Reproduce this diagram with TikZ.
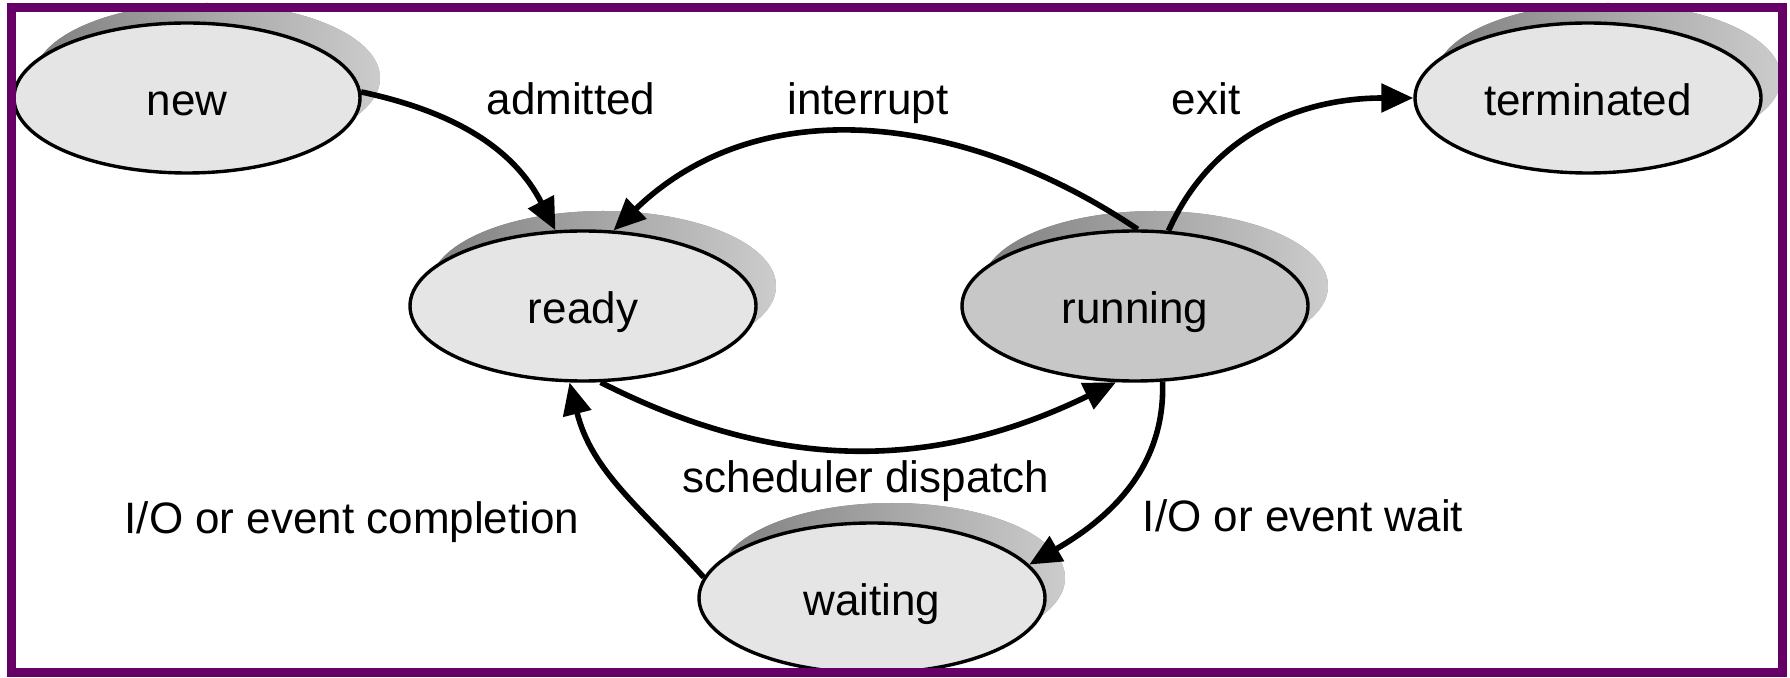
\documentclass[tikz,border=0pt]{standalone}
\usepackage{fontspec}
\setmainfont{Liberation Sans}
\usetikzlibrary{shapes.geometric,shadows,arrows.meta}

\definecolor{framepurple}{RGB}{102,0,102}

\tikzset{
  procstate/.style={ellipse, draw, line width=1.7pt, fill=black!10,
    minimum width=173pt, minimum height=75pt,
    text height=21pt, text depth=3pt,
    font=\fontsize{22}{26}\selectfont,
    drop shadow={shadow xshift=10pt, shadow yshift=10pt,
      left color=black!50, right color=black!20, opacity=1}},
  trans/.style={line width=2.8pt, -{Triangle[length=16pt,width=14pt]}},
  lbl/.style={anchor=base, font=\fontsize{22}{26}\selectfont}
}

\begin{document}
\begin{tikzpicture}[x=0.5pt,y=0.5pt]

\fill[white] (0,0) rectangle (1790,-678); % Page
\useasboundingbox (0,0) rectangle (1790,-678);

% Process states
\node[procstate] (new) at (187,-98) {new};
\node[procstate] (ready) at (583,-306) {ready};
\node[procstate, fill=black!22] (running) at (1135,-306) {running};
\node[procstate] (waiting) at (872,-598) {waiting};
\node[procstate] (terminated) at (1588,-98) {terminated};

% Transitions
\draw[trans] (new.2) to[out=-12, in=117] (ready.110);
\draw[trans] (running.88) to[out=146, in=44] (ready.68);
\draw[trans] (running.66) to[out=66, in=180] (terminated.west);
\draw[trans] (ready.-77) to[out=-27, in=-154] (running.-104);
\draw[trans] (running.-70) to[out=-88, in=30] (waiting.12);
\draw[trans] (waiting.173) to[out=132, in=-76] (ready.-100);

% Transition labels
\node[lbl] (admitted) at (571,-115) {admitted};
\node[lbl] (interrupt) at (868,-115) {interrupt};
\node[lbl] (exit) at (1206,-115) {exit};
\node[lbl] (dispatch) at (866,-493) {scheduler dispatch};
\node[lbl] (completion) at (352,-534) {I/O or event completion};
\node[lbl] (wait) at (1303,-532) {I/O or event wait};

\draw[framepurple, line width=4.5pt] (11,-8) rectangle (1782,-673); % Frame

\end{tikzpicture}
\end{document}
